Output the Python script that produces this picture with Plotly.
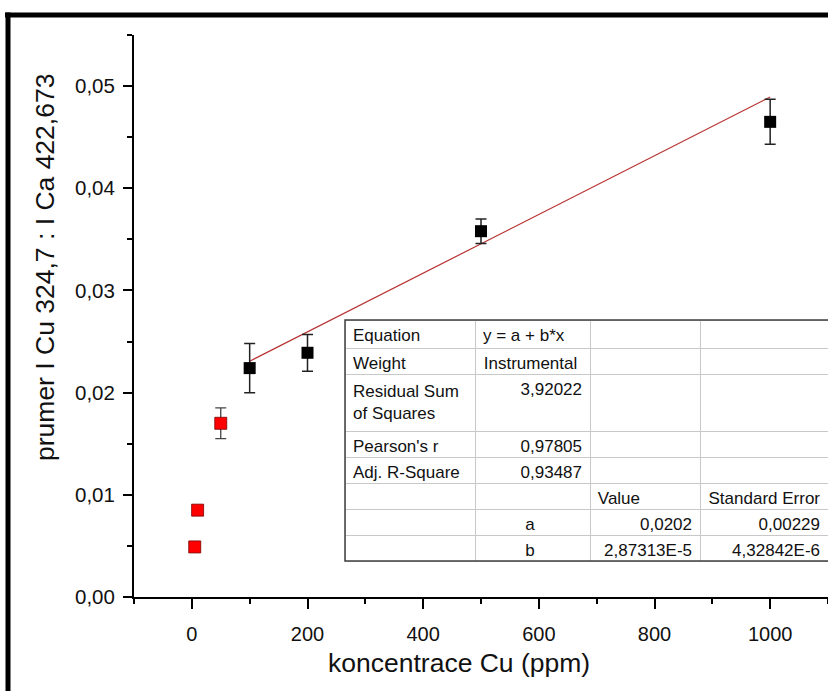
import plotly.graph_objects as go

# ---- data ----
x_black = [100, 200, 500, 1000]
y_black = [0.0224, 0.0239, 0.0358, 0.0465]
err_black = [0.0024, 0.0018, 0.0012, 0.0022]

x_red = [5, 10, 50]
y_red = [0.0049, 0.0085, 0.0170]
err_red = [0.0003, 0.0004, 0.0015]

fit_a = 0.0202
fit_b = 2.87313e-5
fit_x = [100, 1000]
fit_y = [fit_a + fit_b * v for v in fit_x]

x_ticks = [0, 200, 400, 600, 800, 1000]
y_ticks = [0.00, 0.01, 0.02, 0.03, 0.04, 0.05]

NB = "\u00a0"
tbl_header = ["Equation", "y = a + b*x", "", ""]
tbl_col1 = ["Weight", "Residual Sum<br>of Squares", "Pearson's r", "Adj. R-Square", "", "", ""]
tbl_col2 = ["Instrumental" + NB, "3,92022", "0,97805", "0,93487", "", "a" + NB * 10, "b" + NB * 10]
tbl_col3 = ["", "", "", "", "Value" + NB * 11, "0,0202", "2,87313E-5"]
tbl_col4 = ["", "", "", "", "Standard" + NB + "Error", "0,00229", "4,32842E-6"]

# ---- layout geometry (pixels) ----
W, H = 828, 691
L, R, T, B = 134, 0, 35, 94
PW, PH = W - L - R, H - T - B


def px(xp):
    return (xp - L) / PW


def py(yp):
    return (H - B - yp) / PH


FONT = "Liberation Sans, Arial, sans-serif"

fig = go.Figure()

fig.add_trace(go.Scatter(
    x=fit_x, y=fit_y, mode="lines",
    line=dict(color="#b83232", width=1.2), showlegend=False, hoverinfo="skip"))

fig.add_trace(go.Scatter(
    x=x_black, y=y_black, mode="markers",
    marker=dict(symbol="square", size=12, color="black"),
    error_y=dict(type="data", array=err_black, color="#222222", thickness=1.5, width=5.5),
    showlegend=False))

fig.add_trace(go.Scatter(
    x=x_red, y=y_red, mode="markers",
    marker=dict(symbol="square", size=12, color="#ff0000", line=dict(color="#7a0000", width=0.8)),
    error_y=dict(type="data", array=err_red, color="#444444", thickness=1.3, width=5.5),
    showlegend=False))

# table
tx0 = 345
ty0, ty1 = 320, 561
fig.add_trace(go.Table(
    domain=dict(x=[px(tx0), 1.0], y=[0.0, py(ty0)]),
    columnwidth=[130, 115, 110, 128],
    header=dict(values=tbl_header, align="left", height=28,
                font=dict(family=FONT, size=17, color="#111111"),
                fill=dict(color="white"), line=dict(color="#c8c8c8", width=1)),
    cells=dict(values=[tbl_col1, tbl_col2, tbl_col3, tbl_col4],
               align=["left", "right", "right", "right"],
               height=26,
               font=dict(family=FONT, size=17, color="#111111"),
               fill=dict(color="white"), line=dict(color="#c8c8c8", width=1)),
))

shapes = [
    # outer frame of the screenshot (top & left)
    dict(type="line", xref="paper", yref="paper", x0=px(5), x1=px(900), y0=py(15), y1=py(15),
         line=dict(color="black", width=5)),
    dict(type="line", xref="paper", yref="paper", x0=px(8), x1=px(8), y0=py(12.5), y1=py(720),
         line=dict(color="black", width=5)),
    # darker outline around the fit table
    dict(type="rect", xref="paper", yref="paper", x0=px(tx0), x1=px(840), y0=py(ty1), y1=py(ty0),
         line=dict(color="#404040", width=1.5), layer="above"),
]

fig.update_layout(
    width=W, height=H,
    margin=dict(l=L, r=R, t=T, b=B),
    paper_bgcolor="white", plot_bgcolor="white",
    separators=", ",
    font=dict(family=FONT, size=20, color="#111111"),
    shapes=shapes,
    annotations=[
        dict(text="koncentrace Cu (ppm)", xref="paper", yref="paper",
             x=px(459), y=py(663), xanchor="center", yanchor="middle",
             showarrow=False, font=dict(size=26.5, family=FONT, color="#111111")),
        dict(text="prumer I Cu 324,7 : I Ca 422,673", xref="paper", yref="paper",
             x=px(45), y=py(268), xanchor="center", yanchor="middle", textangle=-90,
             showarrow=False, font=dict(size=26.5, family=FONT, color="#111111")),
    ],
    xaxis=dict(range=[-100, 1100], tickvals=x_ticks, ticks="outside", ticklen=10, tickwidth=1.5,
               tickcolor="black", showline=True, linecolor="black", linewidth=2,
               showgrid=False, zeroline=False, ticklabelstandoff=8,
               minor=dict(dtick=100, tick0=0, ticks="outside", ticklen=5, tickwidth=1.5, tickcolor="black"),
               tickfont=dict(size=20, family=FONT, color="#111111")),
    yaxis=dict(range=[0, 0.055], tickvals=y_ticks, tickformat=".2f", ticks="outside", ticklen=9,
               tickwidth=1.5, tickcolor="black", showline=True, linecolor="black", linewidth=2,
               showgrid=False, zeroline=False, ticklabelstandoff=4,
               minor=dict(dtick=0.005, tick0=0, ticks="outside", ticklen=5, tickwidth=1.5, tickcolor="black"),
               tickfont=dict(size=20.5, family=FONT, color="#111111")),
)

fig.write_html("out.html")
